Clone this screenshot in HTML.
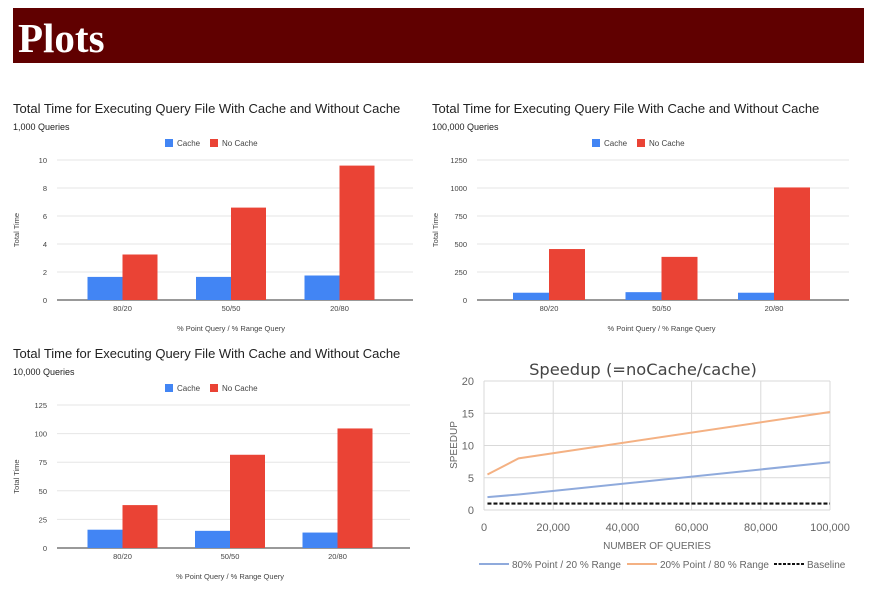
<!DOCTYPE html>
<html><head><meta charset="utf-8"><style>
body{margin:0;background:#fff;width:874px;height:601px;overflow:hidden;}
svg{display:block;font-family:"Liberation Sans",Arial,sans-serif;}
</style></head><body>
<svg id="s" width="874" height="601" xmlns="http://www.w3.org/2000/svg">
<rect x="13" y="8" width="851" height="55" fill="#600000"/>
<text x="18" y="52" fill="#fff" font-family="Liberation Serif,serif" font-weight="bold" font-size="41">Plots</text>
</svg>
<script>
const categories=["80/20","50/50","20/80"];
const cache1k=[1.65,1.65,1.75];
const noCache1k=[3.25,6.6,9.6];
const ticks1k=[0,2,4,6,8,10];
const cache100k=[65,70,65];
const noCache100k=[455,385,1005];
const ticks100k=[0,250,500,750,1000,1250];
const cache10k=[16,15,13.5];
const noCache10k=[37.5,81.5,104.5];
const ticks10k=[0,25,50,75,100,125];
const speedX=[1000,10000,100000];
const speed8020=[2,2.4,7.4];
const speed2080=[5.5,8,15.2];
const baselineVal=[1,1,1];
const speedYTicks=[0,5,10,15,20];
const speedXTicks=[0,20000,40000,60000,80000,100000];

const NS="http://www.w3.org/2000/svg";
const svg=document.getElementById('s');
function mk(tag,attrs,parent,txt){const e=document.createElementNS(NS,tag);for(const k in attrs)e.setAttribute(k,attrs[k]);if(txt!==undefined)e.textContent=txt;(parent||svg).appendChild(e);return e;}

function barChart(o,cache,noCache,ticks){
  const g=mk('g',{});
  
  
  const max=ticks[ticks.length-1];
  const y=v=>o.y0-(v/max)*(o.y0-o.yTop);
  const cx=i=>o.c0+i*o.band;
  let t=mk('text',{x:o.tx,y:o.ty,'font-size':13,fill:'#222'},g,'Total Time for Executing Query File With Cache and Without Cache');
  
  t=mk('text',{x:o.tx,y:o.ty+17,'font-size':9,fill:'#222'},g,o.sub);
  
  let r=mk('rect',{x:o.lx,y:o.ly-4,width:8,height:8,fill:'#4285f4'},g);
  
  t=mk('text',{x:o.lx+12,y:o.ly+3,'font-size':8,fill:'#444'},g,'Cache');
  
  r=mk('rect',{x:o.lx+45,y:o.ly-4,width:8,height:8,fill:'#ea4335'},g);
  
  t=mk('text',{x:o.lx+57,y:o.ly+3,'font-size':8,fill:'#444'},g,'No Cache');
  
  ticks.forEach(v=>{
    const l=mk('line',{x1:o.gx0,x2:o.gx1,y1:y(v),y2:y(v),stroke:v===0?'#333':'#e6e6e6','stroke-width':1},g);
    
    const tt=mk('text',{x:o.gx0-10,y:y(v)+3,'font-size':7.5,fill:'#444','text-anchor':'end'},g,v);
    
  });
  categories.forEach((c,i)=>{
    let b=mk('rect',{x:cx(i)-o.bw,y:y(cache[i]),width:o.bw,height:o.y0-y(cache[i]),fill:'#4285f4'},g);
    
    b=mk('rect',{x:cx(i),y:y(noCache[i]),width:o.bw,height:o.y0-y(noCache[i]),fill:'#ea4335'},g);
    
    const tt=mk('text',{x:cx(i),y:o.y0+11,'font-size':7.5,fill:'#444','text-anchor':'middle'},g,c);
    
  });
  t=mk('text',{x:cx(1),y:o.y0+31,'font-size':7.5,fill:'#444','text-anchor':'middle'},g,'% Point Query / % Range Query');
  
  const my=(o.y0+o.yTop)/2;
  t=mk('text',{x:o.ax,y:my,'font-size':7.5,fill:'#444','text-anchor':'middle',transform:`rotate(-90 ${o.ax} ${my})`},g,'Total Time');
  
}
barChart({name:'chart-1000-queries',tx:13,ty:113,sub:'1,000 Queries',lx:165,ly:143,y0:300,yTop:160,c0:122.5,band:108.5,bw:35,gx0:57,gx1:413,ax:19},cache1k,noCache1k,ticks1k);
barChart({name:'chart-100000-queries',tx:432,ty:113,sub:'100,000 Queries',lx:592,ly:143,y0:300,yTop:160,c0:549,band:112.5,bw:36,gx0:477,gx1:849,ax:438},cache100k,noCache100k,ticks100k);
barChart({name:'chart-10000-queries',tx:13,ty:358,sub:'10,000 Queries',lx:165,ly:388,y0:548,yTop:405,c0:122.5,band:107.5,bw:35,gx0:57,gx1:410,ax:19},cache10k,noCache10k,ticks10k);

const sg=mk('g',{});


const X0=484,X1=830,Y0=510,Y1=381;
const sx=v=>X0+v/100000*(X1-X0);
const sy=v=>Y0-v/20*(Y0-Y1);
let e=mk('text',{x:643,y:375,'font-size':16.3,fill:'#444','text-anchor':'middle','font-family':'DejaVu Sans,sans-serif'},sg,'Speedup  (=noCache/cache)');

speedYTicks.forEach(v=>{
  const l=mk('line',{x1:X0,x2:X1,y1:sy(v),y2:sy(v),stroke:'#d9d9d9'},sg);
  
  const t=mk('text',{x:474,y:sy(v)+4,'font-size':11,fill:'#666','text-anchor':'end'},sg,v);
  
});
speedXTicks.forEach(v=>{
  const l=mk('line',{x1:sx(v),x2:sx(v),y1:Y1,y2:Y0,stroke:'#d9d9d9'},sg);
  
  const t=mk('text',{x:sx(v),y:531,'font-size':11,fill:'#666','text-anchor':'middle'},sg,v.toLocaleString('en-US'));
  
});
function series(vals,color,dash,name){
  const p=mk('polyline',{points:speedX.map((x,i)=>sx(x)+','+sy(vals[i])).join(' '),fill:'none',stroke:color,'stroke-width':dash?2.2:2,'stroke-dasharray':dash||'none'},sg);
  
}
series(speed8020,'#8faadc',null,'line-80-point-20-range');
series(speed2080,'#f4b183',null,'line-20-point-80-range');
series(baselineVal,'#111','4,2','line-baseline');
e=mk('text',{x:657,y:549,'font-size':10,fill:'#666','text-anchor':'middle'},sg,'NUMBER OF QUERIES');

e=mk('text',{x:457,y:445,'font-size':10,fill:'#666','text-anchor':'middle',transform:'rotate(-90 457 445)'},sg,'SPEEDUP');

const leg=[[479,'#8faadc',null,'80% Point / 20 % Range'],[627,'#f4b183',null,'20% Point / 80 % Range'],[774,'#111','3,1.5','Baseline']];
leg.forEach(([x,c,d,lab])=>{
  const l=mk('line',{x1:x,x2:x+30,y1:564,y2:564,stroke:c,'stroke-width':2,'stroke-dasharray':d||'none'},sg);
  
  const t=mk('text',{x:x+33,y:568,'font-size':10,fill:'#666'},sg,lab);
  
});
</script>
</body></html>
